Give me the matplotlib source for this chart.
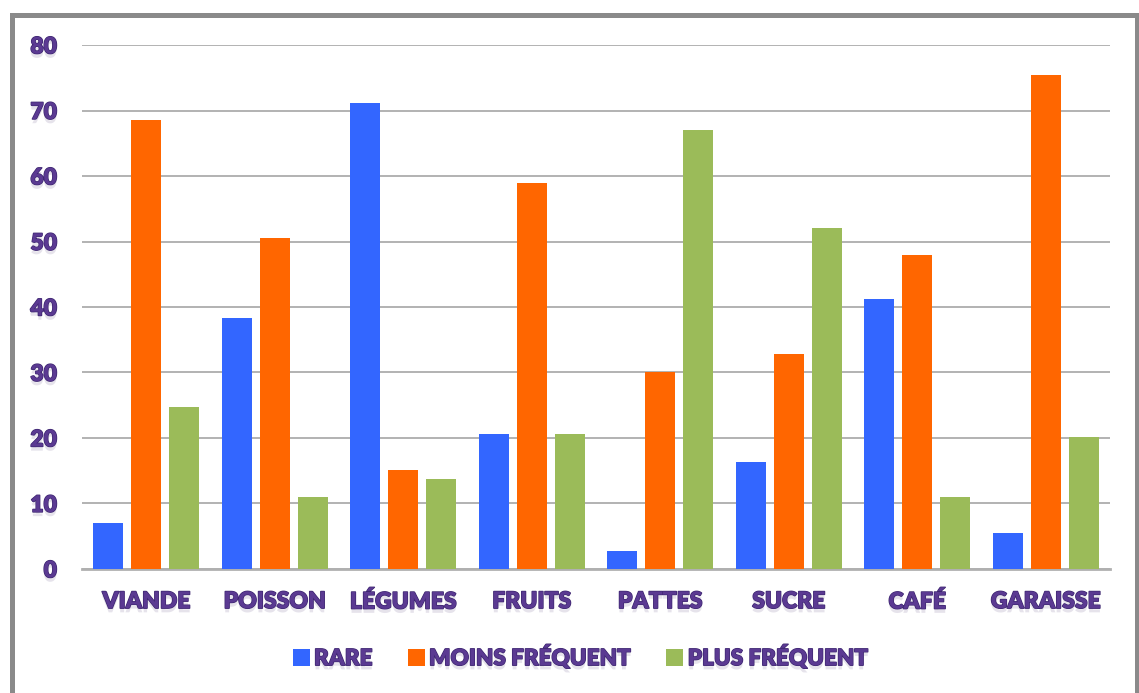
import matplotlib
matplotlib.use("Agg")
import matplotlib.pyplot as plt
import matplotlib.patheffects as pe
from matplotlib.patches import Rectangle
import numpy as np

# {{{ data
categories = ["VIANDE", "POISSON", "LÉGUMES", "FRUITS", "PATTES", "SUCRE",
              "CAFÉ", "GARAISSE"]
rare = [7.0, 38.3, 71.1, 20.6, 2.7, 16.3, 41.2, 5.5]
moins_frequent = [68.5, 50.5, 15.1, 58.9, 30.1, 32.8, 47.9, 75.4]
plus_frequent = [24.7, 11.0, 13.7, 20.6, 67.0, 52.1, 11.0, 20.2]
series_names = ["RARE", "MOINS FRÉQUENT", "PLUS FRÉQUENT"]
yticks = [0, 10, 20, 30, 40, 50, 60, 70, 80]
# }}}

colors = ["#3366FF", "#FF6600", "#9BBB59"]
text_color = "#5B3A92"
font = "Lato"
text_fx = [
    pe.withSimplePatchShadow(offset=(0, -3), shadow_rgbFace="#b8b0c8",
                             alpha=0.35),
    pe.Stroke(linewidth=1.0, foreground="#3d2670"),
    pe.Normal(),
]

fig = plt.figure(figsize=(11.39, 6.93), dpi=100)
ax = fig.add_axes([0.072, 0.179, 0.9025, 0.756])

x = np.arange(len(categories))
width = 0.235
step = 0.295
for i, (vals, name, c) in enumerate(
        zip([rare, moins_frequent, plus_frequent], series_names, colors)):
    ax.bar(x + (i - 1) * step, vals, width, color=c, label=name,
           edgecolor="none", zorder=3)

ax.set_xlim(-0.5, len(categories) - 0.5)
ax.set_ylim(0, 80)
ax.set_yticks(yticks)
ax.set_xticks(x)
ax.set_xticklabels(categories)
ax.grid(axis="y", color="#a6a6a6", lw=1.2, zorder=0)
for side in ["left", "right", "top"]:
    ax.spines[side].set_visible(False)
ax.spines["bottom"].set_color("#b0b0b0")
ax.spines["bottom"].set_linewidth(2)
ax.tick_params(axis="both", length=0)
ax.tick_params(axis="y", pad=18)
ax.tick_params(axis="x", pad=16)
for lab in ax.get_xticklabels() + ax.get_yticklabels():
    lab.set_fontfamily(font)
    lab.set_fontweight("heavy")
    lab.set_fontsize(16.5)
    lab.set_color(text_color)
    lab.set_path_effects(text_fx)

leg = ax.legend(loc="center", bbox_to_anchor=(0.485, -0.168),
                ncol=3, frameon=False, handlelength=0.75, handleheight=0.75,
                handletextpad=0.2, columnspacing=1.55,
                prop={"family": font, "weight": "heavy", "size": 16.2})
for t in leg.get_texts():
    t.set_color(text_color)
    t.set_path_effects(text_fx)

# gray frame round the whole chart
fig.patches.append(Rectangle((11.5 / 1139, -0.05), (1137 - 11.5) / 1139,
                             1 - 14.5 / 693 + 0.05, transform=fig.transFigure,
                             fill=False, edgecolor="#8a8a8a", lw=3.6))

fig.savefig("out.png", dpi=100)
